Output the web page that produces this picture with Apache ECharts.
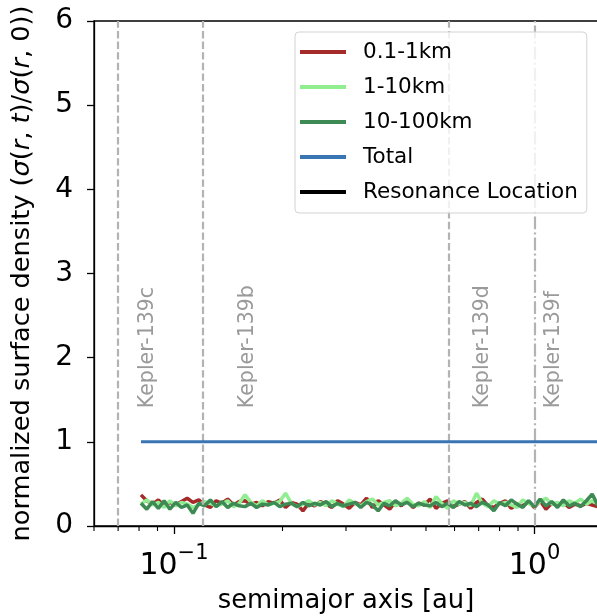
<!DOCTYPE html>
<html>
<head>
<meta charset="utf-8">
<script src="https://cdn.jsdelivr.net/npm/echarts@6/dist/echarts.min.js"></script>
<style>html,body{margin:0;padding:0;background:#fff;}#c{width:597px;height:616px;}</style>
</head>
<body>
<div id="c"></div>
<script>
// ---- data ----
var radii = [0.0810,0.08405,0.08721,0.09049,0.09390,0.09743,0.1011,0.1049,0.1088,0.1129,
  0.1172,0.1216,0.1262,0.1309,0.1358,0.1409,0.1462,0.1517,0.1574,0.1634,
  0.1695,0.1759,0.1825,0.1894,0.1965,0.2039,0.2116,0.2196,0.2278,0.2364,
  0.2453,0.2546,0.2642,0.2741,0.2844,0.2951,0.3062,0.3177,0.3297,0.3421,
  0.3550,0.3684,0.3822,0.3966,0.4115,0.4270,0.4431,0.4597,0.4770,0.4950,
  0.5136,0.5331,0.5531,0.5739,0.5955,0.6180,0.6412,0.6653,0.6904,0.7164,
  0.7433,0.7713,0.8003,0.8305,0.8617,0.8942,0.9278,0.9627,0.9989,1.0365,
  1.0756,1.1161,1.1581,1.2017,1.2469,1.2938,1.3425,1.3930,1.4454,1.5000];
var small = [0.37,0.30,0.26,0.31,0.24,0.28,0.25,0.29,0.33,0.28,
  0.31,0.25,0.22,0.30,0.27,0.32,0.25,0.29,0.30,0.26,
  0.28,0.24,0.29,0.27,0.31,0.22,0.28,0.26,0.18,0.27,
  0.24,0.29,0.26,0.22,0.30,0.26,0.21,0.28,0.25,0.33,
  0.22,0.30,0.25,0.20,0.29,0.24,0.31,0.22,0.27,0.25,
  0.32,0.21,0.27,0.30,0.23,0.26,0.29,0.21,0.28,0.32,
  0.24,0.22,0.27,0.30,0.21,0.26,0.24,0.29,0.22,0.30,
  0.20,0.27,0.25,0.28,0.22,0.26,0.24,0.27,0.25,0.23];
var medium = [0.26,0.31,0.25,0.28,0.22,0.30,0.24,0.28,0.26,0.22,
  0.25,0.29,0.27,0.24,0.26,0.30,0.23,0.27,0.37,0.28,
  0.24,0.30,0.25,0.27,0.29,0.39,0.27,0.23,0.26,0.30,
  0.25,0.28,0.24,0.30,0.26,0.23,0.31,0.27,0.24,0.29,
  0.32,0.25,0.28,0.30,0.24,0.27,0.33,0.26,0.24,0.29,
  0.22,0.35,0.27,0.21,0.30,0.26,0.28,0.24,0.39,0.27,
  0.23,0.30,0.26,0.28,0.25,0.22,0.31,0.27,0.24,0.29,
  0.33,0.26,0.28,0.24,0.30,0.27,0.32,0.26,0.30,0.26];
var large = [0.27,0.20,0.29,0.21,0.30,0.20,0.28,0.22,0.25,0.15,
  0.27,0.24,0.31,0.23,0.29,0.22,0.27,0.24,0.23,0.27,
  0.22,0.26,0.25,0.28,0.23,0.26,0.27,0.23,0.28,0.24,
  0.27,0.25,0.29,0.23,0.27,0.24,0.26,0.28,0.22,0.28,
  0.25,0.18,0.27,0.24,0.30,0.25,0.28,0.23,0.27,0.25,
  0.24,0.28,0.23,0.27,0.22,0.29,0.25,0.27,0.23,0.28,
  0.25,0.18,0.28,0.24,0.31,0.26,0.22,0.30,0.23,0.32,
  0.24,0.29,0.22,0.31,0.24,0.27,0.23,0.30,0.38,0.24];
var totalRadii = [0.081, 1.5];
var totalValues = [1.0, 1.0];
var planetNames = ['Kepler-139c','Kepler-139b','Kepler-139d','Kepler-139f'];
var planetRadii = [0.0697, 0.120, 0.578, 1.0];
var planetLabelRadii = [0.0846, 0.160, 0.716, 1.127];
var planetLabelY = 1.4;
var seriesNames = ['0.1-1km','1-10km','10-100km','Total','Resonance Location'];
var minorTickValues = [0.06,0.07,0.08,0.09,0.2,0.3,0.4,0.5,0.6,0.7,0.8,0.9];
var yTicks = [0,1,2,3,4,5,6];

function zip(a,b){ return a.map(function(v,i){ return [v,b[i]]; }); }

var FONT = 'DejaVu Sans';
// legend icon: 46px line followed by 12px empty space (keeps text gap like the reference)
var LEGEND_ICON = 'path://M0,0 L46,0 L46,4 L0,4 Z M58,2 L58,2 Z';
var chart = echarts.init(document.getElementById('c'), null, {renderer:'canvas'});
var option = {
  animation:false,
  backgroundColor:'#fff',
  textStyle:{fontFamily:FONT},
  grid:{left:94, top:21, right:-1, bottom:90, show:true, borderColor:'#000', borderWidth:1.3,
    backgroundColor:'transparent', containLabel:false, outerBoundsMode:'none'},
  legend:{
    orient:'vertical', left:295, top:32, z:20,
    data:seriesNames,
    icon:LEGEND_ICON, itemWidth:58, itemHeight:4, itemGap:11,
    padding:[8,9,9,5],
    backgroundColor:'rgba(255,255,255,0.8)',
    borderColor:'#d3d3d3', borderWidth:1, borderRadius:4,
    textStyle:{fontFamily:FONT, fontSize:21.5, color:'#000', lineHeight:24},
    selectedMode:false
  },
  xAxis:{
    type:'log', logBase:10, min:0.06, max:1.5,
    name:'semimajor axis [au]', nameLocation:'middle', nameGap:62,
    nameTextStyle:{fontFamily:FONT, fontSize:25.8, color:'#000'},
    axisLine:{show:true, lineStyle:{color:'#000', width:1.3}},
    axisTick:{show:true, inside:false, length:8, lineStyle:{color:'#000', width:1.3}},
    splitLine:{show:false},
    axisLabel:{
      margin:17, color:'#000', fontFamily:FONT,
      showMinLabel:false, showMaxLabel:false,
      formatter:function(v){
        var e = Math.log10(v);
        if (Math.abs(e - Math.round(e)) > 1e-6) return '';
        var r = Math.round(e);
        return '{b|10}{s|' + (r < 0 ? '\u2212' + (-r) : r) + '}';
      },
      rich:{
        b:{fontFamily:FONT, fontSize:30, lineHeight:38, verticalAlign:'bottom', color:'#000'},
        s:{fontFamily:FONT, fontSize:21, lineHeight:21, verticalAlign:'top', color:'#000'}
      }
    }
  },
  yAxis:{
    type:'value', min:0, max:6, interval:1,
    name:'normalized surface density ({i|\u03c3}({i|r}, {i|t})/{i|\u03c3}({i|r}, 0))',
    nameLocation:'middle', nameGap:59, nameRotate:90,
    nameTextStyle:{fontFamily:FONT, fontSize:25.6, color:'#000',
      rich:{i:{fontFamily:FONT, fontSize:25.6, fontStyle:'italic', color:'#000'}}},
    axisLine:{show:true, lineStyle:{color:'#000', width:1.3}},
    axisTick:{show:true, length:7, lineStyle:{color:'#000', width:1.3}},
    splitLine:{show:false},
    axisLabel:{margin:21, fontFamily:FONT, fontSize:28, color:'#000',
      formatter:function(v){ return yTicks.indexOf(v) >= 0 ? String(v) : ''; }}
  },
  series:[
    {name:seriesNames[0], type:'line', data:zip(radii, small), showSymbol:false, symbol:'none',
      color:'#a52a2a', lineStyle:{color:'#a52a2a', width:3.5}, z:2},
    {name:seriesNames[1], type:'line', data:zip(radii, medium), showSymbol:false, symbol:'none',
      color:'#90ee90', lineStyle:{color:'#90ee90', width:3.5}, z:3},
    {name:seriesNames[2], type:'line', data:zip(radii, large), showSymbol:false, symbol:'none',
      color:'#3e8a55', lineStyle:{color:'#3e8a55', width:3.5}, z:4},
    {name:seriesNames[3], type:'line', data:zip(totalRadii, totalValues), showSymbol:false, symbol:'none',
      color:'#3a75b3', lineStyle:{color:'#3a75b3', width:3}, z:5},
    {name:seriesNames[4], type:'line', data:[], symbol:'none', color:'#000', lineStyle:{color:'#000', width:3}, z:6,
      markLine:{
        silent:true, symbol:['none','none'], label:{show:false}, animation:false,
        data: planetRadii.map(function(r,i){
          return {xAxis:r, lineStyle:{color:'#b3b3b3', width:2.2,
            type:(i === 3 ? [12.8,3.2,2,3.2] : [7.4,3.2])}};
        })
      }
    },
    {name:'labels', type:'custom', z:7, silent:true,
      data: planetLabelRadii.map(function(r,i){ return [r, planetLabelY, i]; }),
      renderItem:function(params, api){
        var p = api.coord([api.value(0), api.value(1)]);
        return {type:'text', x:p[0], y:p[1], rotation:Math.PI/2,
          style:{text:planetNames[api.value(2)], fontFamily:FONT, fontSize:20.5, fill:'#9a9a9a',
            align:'left', verticalAlign:'middle'}};
      }
    },
    {name:'minorTicks', type:'custom', z:7, silent:true, clip:false,
      data: minorTickValues.map(function(v){ return [v, 0]; }),
      renderItem:function(params, api){
        var p = api.coord([api.value(0), 0]);
        return {type:'line', shape:{x1:p[0], y1:p[1], x2:p[0], y2:p[1]+5},
          style:{stroke:'#000', lineWidth:1.1}};
      }
    }
  ]
};
chart.setOption(option);
</script>
</body>
</html>
